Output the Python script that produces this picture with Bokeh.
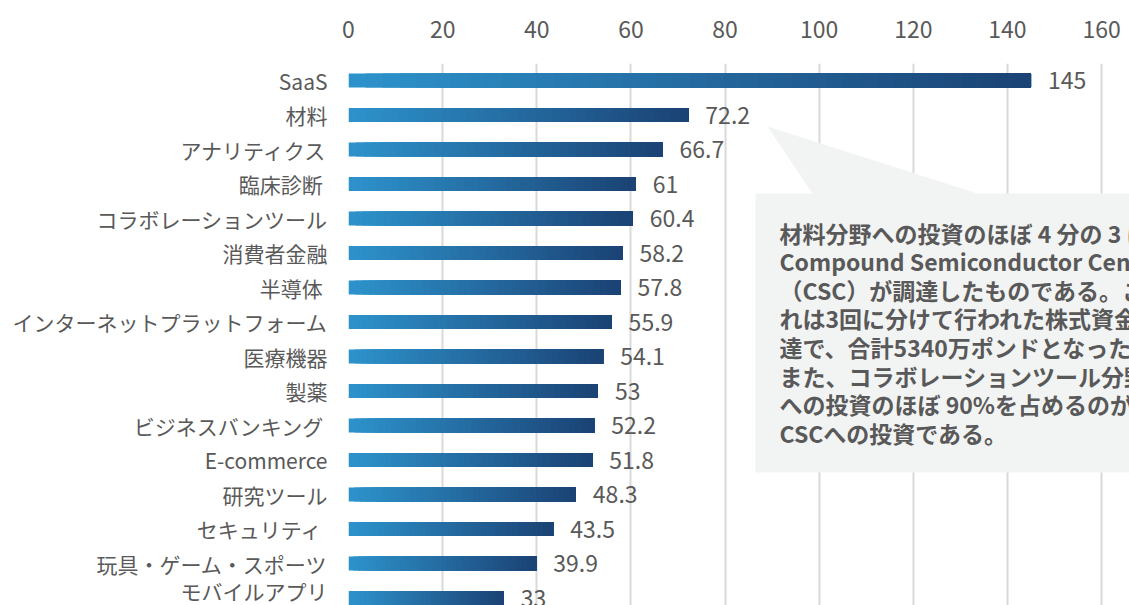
from bokeh.plotting import figure
from bokeh.models import Range1d, FixedTicker, ColumnDataSource
from bokeh.core.properties import value
from bokeh.embed import file_html
from bokeh.resources import INLINE

categories = ["SaaS", "材料", "アナリティクス", "臨床診断\u00a0", "コラボレーションツール",
              "消費者金融", "半導体\u00a0", "インターネットプラットフォーム", "医療機器", "製薬",
              "ビジネスバンキング\u00a0", "E-commerce", "研究ツール", "セキュリティ\u00a0",
              "玩具・ゲーム・スポーツ", "モバイルアプリ"]
values = [145, 72.2, 66.7, 61, 60.4, 58.2, 57.8, 55.9, 54.1, 53, 52.2, 51.8, 48.3, 43.5, 39.9, 33]
value_labels = ["145", "72.2", "66.7", "61", "60.4", "58.2", "57.8", "55.9", "54.1", "53",
                "52.2", "51.8", "48.3", "43.5", "39.9", "33"]
x_ticks = [0, 20, 40, 60, 80, 100, 120, 140, 160]

callout_lines = [
    "材料分野への投資のほぼ 4 分の 3 は、",
    "Compound Semiconductor Centre",
    "（CSC）が調達したものである。こ",
    "れは3回に分けて行われた株式資金調",
    "達で、合計5340万ポンドとなった。",
    "また、コラボレーションツール分野",
    "への投資のほぼ 90%を占めるのが",
    "CSCへの投資である。",
]

FONT = "Noto Sans CJK JP"
TXT = "#595959"
C0 = (45, 146, 203)
C1 = (27, 67, 117)

W, H = 1129, 605
LEFT, TOP = 348, 63
ROW0 = 80
PX_PER_UNIT = 4.707
ROW_PX = 34.5
y_top = -(ROW0 - TOP) / ROW_PX
y_bot = (H - ROW0) / ROW_PX

p = figure(width=W, height=H, output_backend="svg", toolbar_location=None,
           x_range=Range1d(0, (W - LEFT) / PX_PER_UNIT),
           y_range=Range1d(y_bot, y_top),
           x_axis_location="above",
           min_border_left=LEFT, min_border_right=0, min_border_top=TOP, min_border_bottom=0)
p.outline_line_color = None
p.background_fill_color = "white"
p.border_fill_color = "white"

# axes
xa = p.xaxis[0]
xa.ticker = FixedTicker(ticks=x_ticks)
xa.axis_line_color = None
xa.major_tick_line_color = None
xa.minor_tick_line_color = None
xa.major_label_text_font = FONT
xa.major_label_text_font_size = "23px"
xa.major_label_text_color = TXT
xa.major_label_standoff = 20

ya = p.yaxis[0]
ya.ticker = FixedTicker(ticks=list(range(len(categories))))
ya.major_label_overrides = {i: c for i, c in enumerate(categories)}
ya.axis_line_color = None
ya.major_tick_line_color = None
ya.minor_tick_line_color = None
ya.major_label_text_font = FONT
ya.major_label_text_font_size = "21px"
ya.major_label_text_color = TXT
ya.major_label_standoff = 15

p.xgrid.ticker = FixedTicker(ticks=x_ticks)
p.xgrid.grid_line_color = "#D9D9D9"
p.xgrid.grid_line_width = 2
p.ygrid.grid_line_color = None

# gradient bars: stacked slices from slice start to bar end
N = 40
ys, lefts, rights, cols = [], [], [], []
for i, v in enumerate(values):
    for k in range(N):
        t = k / (N - 1)
        r = round(C0[0] + (C1[0] - C0[0]) * t)
        g = round(C0[1] + (C1[1] - C0[1]) * t)
        b = round(C0[2] + (C1[2] - C0[2]) * t)
        ys.append(i)
        lefts.append(v * k / N)
        rights.append(v)
        cols.append("#%02x%02x%02x" % (r, g, b))
p.hbar(y=ys, left=lefts, right=rights, height=0.406, fill_color=cols, line_color=None)

# value labels
src = ColumnDataSource(dict(x=values, y=list(range(len(values))), t=value_labels))
p.text(x="x", y="y", text="t", source=src, x_offset=17, text_baseline="middle",
       text_align="left", text_font=value(FONT), text_font_size="23px", text_color=TXT)

# callout (positions in page pixels converted to data units)
def sx(px):
    return (px - LEFT) / PX_PER_UNIT

def sy(py):
    return (py - ROW0) / ROW_PX

box_l, box_t, box_b, box_r = sx(755), sy(193), sy(472), sx(1170)
p.patch(x=[box_l, sx(812), sx(767), sx(977), box_r, box_r, box_l],
        y=[box_t, box_t, sy(126), box_t, box_t, box_b, box_b],
        fill_color="#F2F3F3", line_color=None)
p.text(x=[sx(779)] * len(callout_lines),
       y=[sy(232 + 28.6 * i) for i in range(len(callout_lines))],
       text=callout_lines, text_baseline="middle", text_align="left",
       text_font=value(FONT), text_font_size="23px", text_font_style="bold",
       text_color=TXT)

open("out.html", "w").write(file_html(p, INLINE))
